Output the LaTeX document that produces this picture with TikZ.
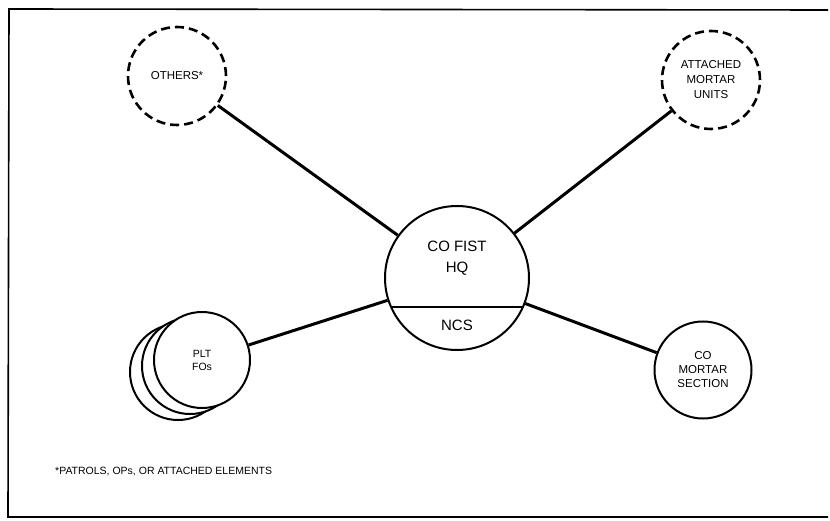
\documentclass[tikz,border=0pt]{standalone}
\usepackage{fontspec}
\setmainfont{Liberation Sans}
\usetikzlibrary{calc}
\begin{document}
\begin{tikzpicture}[x=1pt,y=-1pt,
  unit/.style={circle,draw,line width=2pt,fill=white,inner sep=0pt,align=center},
  dashunit/.style={unit,line width=2.6pt,dash pattern=on 9pt off 5pt},
  link/.style={line width=3pt},
  lbl/.style={align=center,inner sep=0pt}]
\useasboundingbox (0,0) rectangle (830,521);
\draw[line width=1.6pt] (828,10) -- (9,9) -- (8,517) -- (828,517);
% central HQ
\node[unit,minimum size=144pt] (hq) at (457,278) {};
\draw[line width=2pt] ($(hq.center)+(-65.9,29)$) coordinate (chl) -- ($(hq.center)+(65.9,29)$) coordinate (chr);
\node[lbl,font=\fontsize{15}{21}\selectfont] (hqt) at (457,258) {CO FIST\\HQ};
\node[lbl,font=\fontsize{15}{18}\selectfont] (ncs) at (457,325) {NCS};
% others
\node[dashunit,minimum size=98pt,font=\fontsize{11.5}{14}\selectfont] (oth) at (177,76) {OTHERS*};
\node[dashunit,minimum size=98pt,font=\fontsize{11.5}{15}\selectfont] (att) at (711,80) {ATTACHED\\MORTAR\\UNITS};
% PLT FOs stack
\node[unit,minimum size=96pt] (plt3) at (178,372) {};
\node[unit,minimum size=96pt] (plt2) at (190,366) {};
\node[unit,minimum size=96pt,font=\fontsize{10.5}{13}\selectfont] (plt) at (202,360) {PLT\\FOs};
% CO mortar section
\node[unit,minimum size=97pt,font=\fontsize{11.5}{14}\selectfont] (mor) at (703,370) {CO\\MORTAR\\SECTION};
% connectors
\draw[link] (hq) -- (oth);
\draw[link] (hq) -- (att);
\draw[link] (hq) -- (plt);
\draw[link] (hq) -- (mor);
% footnote
\node[lbl,anchor=west,font=\fontsize{10.5}{12}\selectfont] (fn) at (55,472) {*PATROLS, OPs, OR ATTACHED ELEMENTS};
\end{tikzpicture}
\end{document}
